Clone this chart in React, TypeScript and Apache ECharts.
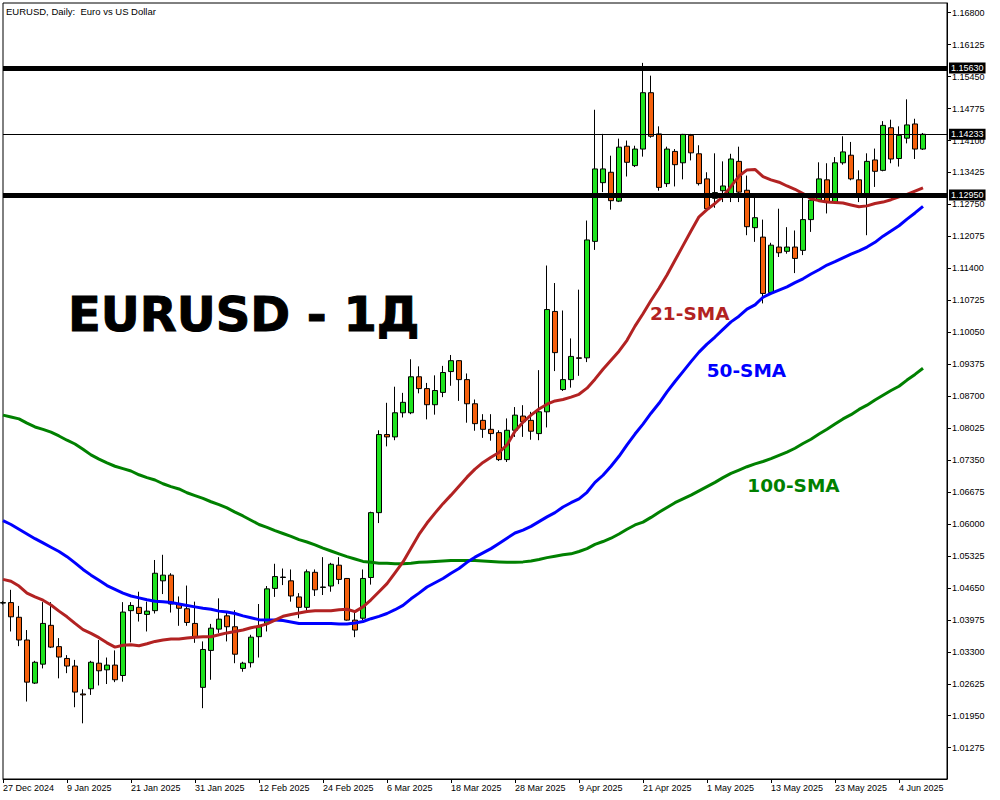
import React, { useEffect, useRef } from "react";
import * as echarts from "echarts";

const dates = ["27 Dec 2024","30 Dec 2024","31 Dec 2024","2 Jan 2025","3 Jan 2025","6 Jan 2025","7 Jan 2025","8 Jan 2025","9 Jan 2025","10 Jan 2025","13 Jan 2025","14 Jan 2025","15 Jan 2025","16 Jan 2025","17 Jan 2025","20 Jan 2025","21 Jan 2025","22 Jan 2025","23 Jan 2025","24 Jan 2025","27 Jan 2025","28 Jan 2025","29 Jan 2025","30 Jan 2025","31 Jan 2025","3 Feb 2025","4 Feb 2025","5 Feb 2025","6 Feb 2025","7 Feb 2025","10 Feb 2025","11 Feb 2025","12 Feb 2025","13 Feb 2025","14 Feb 2025","17 Feb 2025","18 Feb 2025","19 Feb 2025","20 Feb 2025","21 Feb 2025","24 Feb 2025","25 Feb 2025","26 Feb 2025","27 Feb 2025","28 Feb 2025","3 Mar 2025","4 Mar 2025","5 Mar 2025","6 Mar 2025","7 Mar 2025","10 Mar 2025","11 Mar 2025","12 Mar 2025","13 Mar 2025","14 Mar 2025","17 Mar 2025","18 Mar 2025","19 Mar 2025","20 Mar 2025","21 Mar 2025","24 Mar 2025","25 Mar 2025","26 Mar 2025","27 Mar 2025","28 Mar 2025","31 Mar 2025","1 Apr 2025","2 Apr 2025","3 Apr 2025","4 Apr 2025","7 Apr 2025","8 Apr 2025","9 Apr 2025","10 Apr 2025","11 Apr 2025","14 Apr 2025","15 Apr 2025","16 Apr 2025","17 Apr 2025","18 Apr 2025","21 Apr 2025","22 Apr 2025","23 Apr 2025","24 Apr 2025","25 Apr 2025","28 Apr 2025","29 Apr 2025","30 Apr 2025","1 May 2025","2 May 2025","5 May 2025","6 May 2025","7 May 2025","8 May 2025","9 May 2025","12 May 2025","13 May 2025","14 May 2025","15 May 2025","16 May 2025","19 May 2025","20 May 2025","21 May 2025","22 May 2025","23 May 2025","26 May 2025","27 May 2025","28 May 2025","29 May 2025","30 May 2025","2 Jun 2025","3 Jun 2025","4 Jun 2025","5 Jun 2025","6 Jun 2025","9 Jun 2025"];

const opens = [
  1.0433, 1.0434, 1.0403, 1.0355, 1.0264, 1.0304, 1.0386, 1.0341, 1.0316, 1.0300,
  1.0241, 1.0252, 1.0306, 1.0292, 1.0302, 1.0280, 1.0417, 1.0424, 1.0409, 1.0417,
  1.0480, 1.0492, 1.0431, 1.0421, 1.0390, 1.0255, 1.0333, 1.0378, 1.0406, 1.0383,
  1.0295, 1.0307, 1.0362, 1.0390, 1.0464, 1.0487, 1.0480, 1.0446, 1.0424, 1.0498,
  1.0466, 1.0469, 1.0513, 1.0485, 1.0397, 1.0401, 1.0487, 1.0624, 1.0789, 1.0784,
  1.0835, 1.0835, 1.0911, 1.0886, 1.0852, 1.0878, 1.0922, 1.0945, 1.0905, 1.0854,
  1.0819, 1.0800, 1.0793, 1.0736, 1.0798, 1.0828, 1.0819, 1.0791, 1.0837, 1.1049,
  1.0884, 1.0905, 1.0951, 1.0951, 1.1197, 1.1321, 1.1343, 1.1282, 1.1398, 1.1357,
  1.1392, 1.1511, 1.1424, 1.1319, 1.1387, 1.1363, 1.1421, 1.1382, 1.1329, 1.1288,
  1.1304, 1.1297, 1.1366, 1.1305, 1.1226, 1.1206, 1.1089, 1.1185, 1.1176, 1.1185,
  1.1178, 1.1243, 1.1284, 1.1327, 1.1280, 1.1363, 1.1379, 1.1327, 1.1298, 1.1369,
  1.1347, 1.1437, 1.1372, 1.1415, 1.1445, 1.1392,
];

const highs = [
  1.0437, 1.0461, 1.0427, 1.0376, 1.0311, 1.0435, 1.0435, 1.0359, 1.0323, 1.0313,
  1.0251, 1.0311, 1.0355, 1.0318, 1.0333, 1.0435, 1.0435, 1.0457, 1.0436, 1.0524,
  1.0535, 1.0496, 1.0447, 1.0470, 1.0436, 1.0352, 1.0389, 1.0443, 1.0415, 1.0418,
  1.0309, 1.0366, 1.0431, 1.0469, 1.0516, 1.0506, 1.0504, 1.0454, 1.0504, 1.0504,
  1.0530, 1.0518, 1.0530, 1.0486, 1.0418, 1.0504, 1.0626, 1.0798, 1.0856, 1.0890,
  1.0877, 1.0948, 1.0933, 1.0898, 1.0914, 1.0934, 1.0957, 1.0946, 1.0918, 1.0863,
  1.0832, 1.0832, 1.0798, 1.0823, 1.0847, 1.0851, 1.0837, 1.0925, 1.1146, 1.1109,
  1.1051, 1.0992, 1.1095, 1.1241, 1.1475, 1.1424, 1.1378, 1.1414, 1.1410, 1.1399,
  1.1574, 1.1547, 1.1440, 1.1397, 1.1392, 1.1424, 1.1424, 1.1400, 1.1343, 1.1383,
  1.1366, 1.1382, 1.1397, 1.1336, 1.1291, 1.1243, 1.1194, 1.1266, 1.1227, 1.1220,
  1.1298, 1.1291, 1.1364, 1.1362, 1.1375, 1.1419, 1.1407, 1.1347, 1.1383, 1.1393,
  1.1451, 1.1454, 1.1440, 1.1497, 1.1456, 1.1426,
];

const lows = [
  1.0430, 1.0373, 1.0342, 1.0225, 1.0262, 1.0295, 1.0338, 1.0274, 1.0285, 1.0213,
  1.0179, 1.0239, 1.0259, 1.0262, 1.0266, 1.0267, 1.0350, 1.0394, 1.0373, 1.0411,
  1.0452, 1.0413, 1.0385, 1.0385, 1.0349, 1.0211, 1.0271, 1.0370, 1.0352, 1.0306,
  1.0288, 1.0297, 1.0318, 1.0373, 1.0446, 1.0471, 1.0436, 1.0401, 1.0418, 1.0448,
  1.0450, 1.0457, 1.0473, 1.0396, 1.0361, 1.0397, 1.0472, 1.0602, 1.0764, 1.0777,
  1.0825, 1.0832, 1.0876, 1.0821, 1.0831, 1.0868, 1.0892, 1.0860, 1.0814, 1.0797,
  1.0782, 1.0776, 1.0733, 1.0731, 1.0784, 1.0784, 1.0778, 1.0777, 1.0804, 1.0923,
  1.0881, 1.0888, 1.0913, 1.0942, 1.1179, 1.1301, 1.1264, 1.1280, 1.1334, 1.1354,
  1.1376, 1.1416, 1.1304, 1.1312, 1.1313, 1.1328, 1.1368, 1.1315, 1.1262, 1.1268,
  1.1280, 1.1280, 1.1280, 1.1210, 1.1196, 1.1066, 1.1087, 1.1164, 1.1171, 1.1130,
  1.1168, 1.1217, 1.1280, 1.1256, 1.1278, 1.1359, 1.1326, 1.1280, 1.1210, 1.1312,
  1.1345, 1.1362, 1.1355, 1.1404, 1.1371, 1.1390,
];

const closes = [
  1.0434, 1.0404, 1.0355, 1.0266, 1.0308, 1.0390, 1.0340, 1.0319, 1.0300, 1.0245,
  1.0239, 1.0308, 1.0290, 1.0302, 1.0271, 1.0414, 1.0428, 1.0411, 1.0416, 1.0496,
  1.0492, 1.0431, 1.0422, 1.0392, 1.0362, 1.0335, 1.0380, 1.0399, 1.0383, 1.0325,
  1.0306, 1.0361, 1.0383, 1.0463, 1.0489, 1.0488, 1.0448, 1.0424, 1.0499, 1.0461,
  1.0467, 1.0515, 1.0483, 1.0397, 1.0376, 1.0485, 1.0624, 1.0789, 1.0784, 1.0835,
  1.0857, 1.0911, 1.0886, 1.0852, 1.0882, 1.0920, 1.0945, 1.0905, 1.0854, 1.0812,
  1.0800, 1.0791, 1.0736, 1.0798, 1.0830, 1.0816, 1.0796, 1.0837, 1.1053, 1.0962,
  1.0905, 1.0954, 1.0950, 1.1200, 1.1350, 1.1350, 1.1283, 1.1396, 1.1364, 1.1392,
  1.1511, 1.1419, 1.1311, 1.1392, 1.1359, 1.1423, 1.1384, 1.1319, 1.1266, 1.1300,
  1.1314, 1.1371, 1.1301, 1.1228, 1.1247, 1.1087, 1.1189, 1.1173, 1.1185, 1.1161,
  1.1243, 1.1284, 1.1329, 1.1280, 1.1363, 1.1386, 1.1329, 1.1298, 1.1366, 1.1345,
  1.1442, 1.1371, 1.1421, 1.1443, 1.1392, 1.14233,
];

const sma21 = [
  1.0483, 1.0479, 1.0469, 1.0454, 1.0446, 1.0439, 1.0429, 1.0416, 1.0404, 1.0390,
  1.0377, 1.0369, 1.0360, 1.0349, 1.0340, 1.0344, 1.0345, 1.0343, 1.0347, 1.0352,
  1.0355, 1.0357, 1.0357, 1.0359, 1.0361, 1.0362, 1.0362, 1.0366, 1.0370, 1.0373,
  1.0376, 1.0381, 1.0384, 1.0389, 1.0397, 1.0405, 1.0409, 1.0412, 1.0415, 1.0417,
  1.0417, 1.0417, 1.0419, 1.0420, 1.0415, 1.0425, 1.0440, 1.0457, 1.0474, 1.0497,
  1.0520, 1.0549, 1.0578, 1.0602, 1.0623, 1.0643, 1.0661, 1.0680, 1.0699, 1.0716,
  1.0730, 1.0741, 1.0751, 1.0767, 1.0796, 1.0815, 1.0830, 1.0843, 1.0853, 1.0860,
  1.0863, 1.0868, 1.0874, 1.0887, 1.0906, 1.0927, 1.0946, 1.0965, 1.0988, 1.1018,
  1.1044, 1.1072, 1.1098, 1.1126, 1.1157, 1.1188, 1.1219, 1.1249, 1.1264, 1.1277,
  1.1292, 1.1313, 1.1335, 1.1348, 1.1349, 1.1334, 1.1327, 1.1322, 1.1314, 1.1307,
  1.1298, 1.1287, 1.1283, 1.1280, 1.1279, 1.1278, 1.1274, 1.1270, 1.1272, 1.1277,
  1.1280, 1.1285, 1.1291, 1.1296, 1.1303, 1.1310,
];

const sma50 = [
  1.0607, 1.0599, 1.0589, 1.0579, 1.0569, 1.0560, 1.0551, 1.0542, 1.0531, 1.0518,
  1.0504, 1.0492, 1.0481, 1.0470, 1.0462, 1.0454, 1.0448, 1.0444, 1.0440, 1.0437,
  1.0436, 1.0434, 1.0431, 1.0428, 1.0425, 1.0422, 1.0420, 1.0416, 1.0414, 1.0411,
  1.0406, 1.0402, 1.0398, 1.0397, 1.0397, 1.0396, 1.0393, 1.0390, 1.0390, 1.0390,
  1.0390, 1.0390, 1.0389, 1.0389, 1.0391, 1.0394, 1.0400, 1.0405, 1.0411, 1.0419,
  1.0428, 1.0442, 1.0454, 1.0467, 1.0476, 1.0485, 1.0496, 1.0506, 1.0519, 1.0530,
  1.0539, 1.0548, 1.0559, 1.0570, 1.0581, 1.0587, 1.0595, 1.0605, 1.0615, 1.0624,
  1.0636, 1.0645, 1.0653, 1.0667, 1.0688, 1.0703, 1.0722, 1.0743, 1.0767, 1.0790,
  1.0811, 1.0834, 1.0855, 1.0879, 1.0901, 1.0922, 1.0943, 1.0963, 1.0980, 1.0995,
  1.1011, 1.1027, 1.1039, 1.1054, 1.1063, 1.1079, 1.1087, 1.1094, 1.1101, 1.1110,
  1.1118, 1.1128, 1.1137, 1.1147, 1.1154, 1.1162, 1.1170, 1.1177, 1.1185, 1.1195,
  1.1208, 1.1219, 1.1230, 1.1244, 1.1257, 1.1271,
];

const sma100 = [
  1.0830, 1.0826, 1.0822, 1.0813, 1.0805, 1.0800, 1.0794, 1.0786, 1.0777, 1.0769,
  1.0758, 1.0746, 1.0737, 1.0729, 1.0722, 1.0717, 1.0712, 1.0704, 1.0698, 1.0693,
  1.0685, 1.0679, 1.0674, 1.0666, 1.0660, 1.0654, 1.0647, 1.0641, 1.0634, 1.0625,
  1.0617, 1.0608, 1.0599, 1.0593, 1.0586, 1.0580, 1.0574, 1.0567, 1.0562, 1.0556,
  1.0549, 1.0543, 1.0537, 1.0531, 1.0526, 1.0521, 1.0519, 1.0517, 1.0517, 1.0516,
  1.0516, 1.0517, 1.0519, 1.0520, 1.0521, 1.0522, 1.0523, 1.0523, 1.0523, 1.0523,
  1.0522, 1.0521, 1.0520, 1.0519, 1.0519, 1.0520, 1.0522, 1.0525, 1.0529, 1.0532,
  1.0535, 1.0537, 1.0542, 1.0548, 1.0557, 1.0563, 1.0570, 1.0579, 1.0589, 1.0598,
  1.0604, 1.0614, 1.0625, 1.0635, 1.0645, 1.0653, 1.0661, 1.0670, 1.0679, 1.0688,
  1.0698, 1.0707, 1.0714, 1.0721, 1.0727, 1.0732, 1.0738, 1.0745, 1.0752, 1.0760,
  1.0770, 1.0779, 1.0790, 1.0800, 1.0811, 1.0822, 1.0831, 1.0842, 1.0851, 1.0862,
  1.0872, 1.0882, 1.0891, 1.0904, 1.0916, 1.0929,
];

const priceTicks = [
  1.168, 1.16125, 1.1545, 1.14775, 1.141, 1.13425, 1.1275, 1.12075, 1.114, 1.10725,
  1.1005, 1.09375, 1.087, 1.08025, 1.0735, 1.06675, 1.06, 1.05325, 1.0465, 1.03975,
  1.033, 1.02625, 1.0195, 1.01275,
];

const resistanceLevel = 1.1563;
const supportLevel = 1.1295;
const lastPrice = 1.14233;
const padCategories = ["", "", ""];

const AXIS_FONT = "Liberation Sans";

export default function App() {
  const ref = useRef<HTMLDivElement>(null);

  useEffect(() => {
    const chart = echarts.init(ref.current as HTMLDivElement, null, { renderer: "svg" });
    const candles = dates.map((_, i) => [opens[i], closes[i], lows[i], highs[i]]);
    const cats = [...dates, ...padCategories];

    const option: any = {
      animation: false,
      backgroundColor: "#ffffff",
      grid: {
        left: 3,
        right: 53,
        top: 3,
        bottom: 21,
        show: true,
        borderColor: "#000",
        borderWidth: 1,
        backgroundColor: "transparent",
        containLabel: false,
        outerBoundsMode: "none",
      },
      xAxis: {
        type: "category",
        data: cats,
        boundaryGap: false,
        axisLine: { show: true, lineStyle: { color: "#000", width: 1 } },
        axisTick: { show: true, interval: 7, length: 4, lineStyle: { color: "#000" } },
        axisLabel: {
          interval: 7,
          align: "left",
          margin: 4,
          fontSize: 9,
          fontFamily: AXIS_FONT,
          color: "#000",
          hideOverlap: false,
        },
        splitLine: { show: false },
      },
      yAxis: {
        type: "value",
        position: "right",
        min: 1.00614,
        max: 1.17005,
        scale: true,
        splitLine: { show: false },
        axisLine: { show: true, lineStyle: { color: "#000", width: 1 } },
        axisTick: { show: true, length: 4, lineStyle: { color: "#000" }, customValues: priceTicks },
        axisLabel: {
          customValues: priceTicks,
          formatter: (v: number) => v.toFixed(5),
          fontSize: 9,
          fontFamily: AXIS_FONT,
          color: "#000",
          margin: 5,
        },
      },
      series: [
        {
          type: "candlestick",
          data: candles,
          barWidth: 5,
          z: 2,
          itemStyle: {
            color: "#1ee31e",
            color0: "#f5600c",
            borderColor: "#000",
            borderColor0: "#000",
            borderColorDoji: "#000",
            borderWidth: 1,
          },
        },
        {
          type: "line",
          data: [],
          z: 3,
          clip: false,
          markLine: {
            silent: true,
            symbol: "none",
            animation: false,
            precision: 5,
            label: {
              show: true,
              position: "end",
              distance: 2,
              formatter: (p: any) => Number(p.value).toFixed(5),
              backgroundColor: "#000",
              color: "#fff",
              fontSize: 9,
              fontFamily: AXIS_FONT,
              padding: [1, 2, 1, 2],
            },
            data: [
              { yAxis: resistanceLevel, lineStyle: { color: "#000", width: 5, type: "solid" } },
              { yAxis: supportLevel, lineStyle: { color: "#000", width: 5, type: "solid" } },
              { yAxis: lastPrice, lineStyle: { color: "#000", width: 1, type: "solid" } },
            ],
          },
        },
        {
          type: "line",
          data: sma100,
          z: 4,
          symbol: "none",
          lineStyle: { color: "#008000", width: 3 },
        },
        {
          type: "line",
          data: sma50,
          z: 4,
          symbol: "none",
          lineStyle: { color: "#0000ff", width: 3 },
        },
        {
          type: "line",
          data: sma21,
          z: 4,
          symbol: "none",
          lineStyle: { color: "#b22222", width: 3 },
        },
      ],
      graphic: [
        {
          type: "text",
          x: 6,
          y: 11.5,
          z: 10,
          style: {
            text: "EURUSD, Daily:  Euro vs US Dollar",
            fontFamily: AXIS_FONT,
            fontSize: 9.5,
            fill: "#000",
            verticalAlign: "middle",
          },
        },
        {
          type: "text",
          x: 68,
          y: 313.5,
          z: 10,
          style: {
            text: "EURUSD - 1Д",
            fontFamily: "DejaVu Sans",
            fontWeight: "bold",
            fontSize: 48,
            fill: "#000",
            stroke: "#000",
            lineWidth: 1,
            verticalAlign: "middle",
          },
        },
        {
          type: "text",
          x: 650,
          y: 313.7,
          z: 10,
          style: {
            text: "21-SMA",
            fontFamily: "DejaVu Sans",
            fontWeight: "bold",
            fontSize: 18.5,
            fill: "#b22222",
            verticalAlign: "middle",
          },
        },
        {
          type: "text",
          x: 706.7,
          y: 370.3,
          z: 10,
          style: {
            text: "50-SMA",
            fontFamily: "DejaVu Sans",
            fontWeight: "bold",
            fontSize: 18.5,
            fill: "#0000ff",
            verticalAlign: "middle",
          },
        },
        {
          type: "text",
          x: 747.3,
          y: 485.3,
          z: 10,
          style: {
            text: "100-SMA",
            fontFamily: "DejaVu Sans",
            fontWeight: "bold",
            fontSize: 18.5,
            fill: "#008000",
            verticalAlign: "middle",
          },
        },
      ],
    };

    chart.setOption(option);
    return () => {
      chart.dispose();
    };
  }, []);

  return (
    <div
      ref={ref}
      style={{ position: "fixed", left: 0, top: 0, width: 1000, height: 800, background: "#fff" }}
    />
  );
}
